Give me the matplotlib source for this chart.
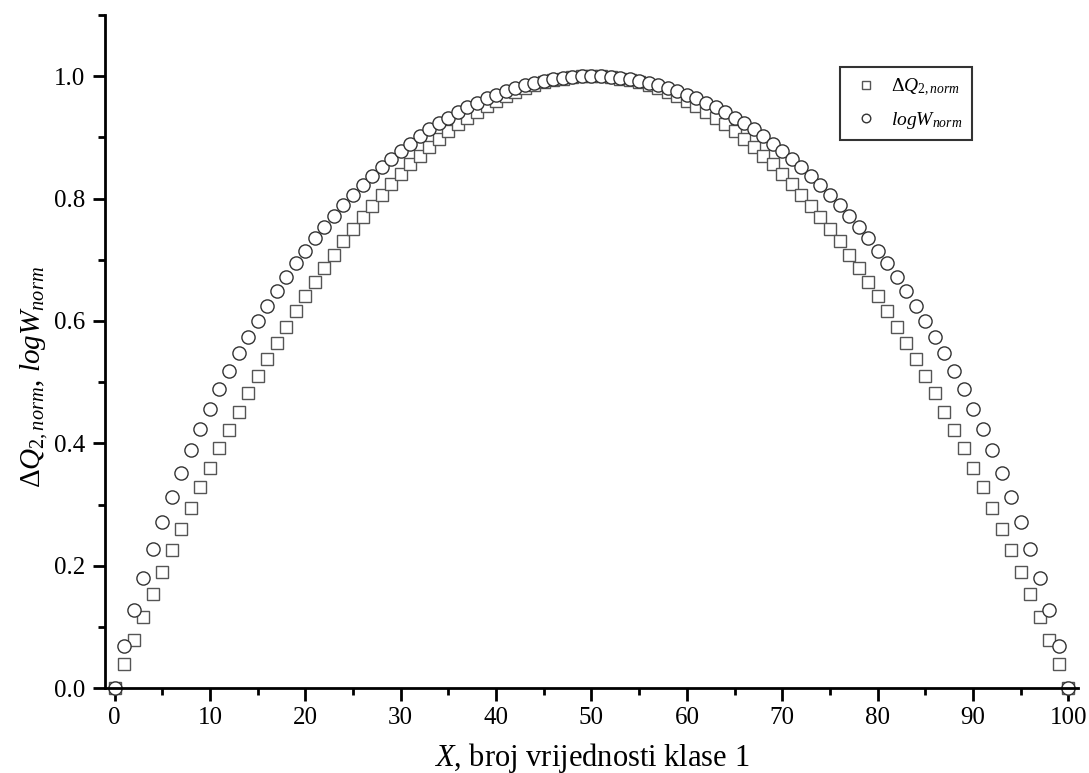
import matplotlib.pyplot as plt
from matplotlib.ticker import MultipleLocator

plt.rcParams['font.family'] = ['Liberation Serif', 'DejaVu Serif']
plt.rcParams['mathtext.fontset'] = 'custom'
plt.rcParams['mathtext.rm'] = 'Liberation Serif'
plt.rcParams['mathtext.it'] = 'Liberation Serif:italic'

# --- data ---
x = list(range(0, 101))

dq2_norm = [
    0.000, 0.040, 0.078, 0.116, 0.154, 0.190, 0.226, 0.260, 0.294, 0.328,
    0.360, 0.392, 0.422, 0.452, 0.482, 0.510, 0.538, 0.564, 0.590, 0.616,
    0.640, 0.664, 0.686, 0.708, 0.730, 0.750, 0.770, 0.788, 0.806, 0.824,
    0.840, 0.856, 0.870, 0.884, 0.898, 0.910, 0.922, 0.932, 0.942, 0.952,
    0.960, 0.968, 0.974, 0.980, 0.986, 0.990, 0.994, 0.996, 0.998, 1.000,
    1.000,
    1.000, 0.998, 0.996, 0.994, 0.990, 0.986, 0.980, 0.974, 0.968, 0.960,
    0.952, 0.942, 0.932, 0.922, 0.910, 0.898, 0.884, 0.870, 0.856, 0.840,
    0.824, 0.806, 0.788, 0.770, 0.750, 0.730, 0.708, 0.686, 0.664, 0.640,
    0.616, 0.590, 0.564, 0.538, 0.510, 0.482, 0.452, 0.422, 0.392, 0.360,
    0.328, 0.294, 0.260, 0.226, 0.190, 0.154, 0.116, 0.078, 0.040, 0.000,
]

logw_norm = [
    0.000, 0.069, 0.127, 0.180, 0.227, 0.272, 0.313, 0.352, 0.389, 0.423,
    0.456, 0.488, 0.518, 0.547, 0.574, 0.600, 0.625, 0.649, 0.672, 0.694,
    0.715, 0.735, 0.754, 0.772, 0.790, 0.806, 0.822, 0.837, 0.852, 0.865,
    0.878, 0.890, 0.902, 0.913, 0.923, 0.932, 0.941, 0.949, 0.957, 0.964,
    0.970, 0.976, 0.981, 0.985, 0.989, 0.993, 0.995, 0.997, 0.999, 1.000,
    1.000,
    1.000, 0.999, 0.997, 0.995, 0.993, 0.989, 0.985, 0.981, 0.976, 0.970,
    0.964, 0.957, 0.949, 0.941, 0.932, 0.923, 0.913, 0.902, 0.890, 0.878,
    0.865, 0.852, 0.837, 0.822, 0.806, 0.790, 0.772, 0.754, 0.735, 0.715,
    0.694, 0.672, 0.649, 0.625, 0.600, 0.574, 0.547, 0.518, 0.488, 0.456,
    0.423, 0.389, 0.352, 0.313, 0.272, 0.227, 0.180, 0.127, 0.069, 0.000,
]

fig = plt.figure(figsize=(10.89, 7.73), dpi=100)
ax = fig.add_axes([0.0964, 0.1099, 0.8935, 0.8706])

ax.plot(x, dq2_norm, linestyle='none', marker='s', markersize=8.5,
        markerfacecolor='white', markeredgecolor='#555555', markeredgewidth=1.0,
        label=r'$\mathit{\Delta Q}_{\mathit{2,norm}}$', clip_on=False)
ax.plot(x, logw_norm, linestyle='none', marker='o', markersize=9.5,
        markerfacecolor='white', markeredgecolor='#333333', markeredgewidth=1.0,
        label=r'$\mathit{logW}_{\mathit{norm}}$', clip_on=False)

ax.set_xlim(-1, 101)
ax.set_ylim(0, 1.1)

ax.spines['top'].set_visible(False)
ax.spines['right'].set_visible(False)
for s in ('left', 'bottom'):
    ax.spines[s].set_linewidth(2)

ax.xaxis.set_major_locator(MultipleLocator(10))
ax.xaxis.set_minor_locator(MultipleLocator(5))
ax.yaxis.set_major_locator(MultipleLocator(0.2))
ax.yaxis.set_minor_locator(MultipleLocator(0.1))
ax.tick_params(which='major', direction='out', length=9, width=2,
               labelsize=18, pad=5)
ax.tick_params(which='minor', direction='out', length=5, width=2)

ax.set_xlabel(r'$X$, broj vrijednosti klase 1', fontsize=22, labelpad=8)
ax.set_ylabel(r'$\Delta Q_{2,norm}$, $logW_{norm}$', fontsize=21)
ax.yaxis.set_label_coords(-0.057, 0.462)

leg = ax.legend(loc='upper right', bbox_to_anchor=(0.891, 0.923),
                borderaxespad=0, fontsize=14, handlelength=1.6,
                fancybox=False, framealpha=1, edgecolor='#333333',
                handletextpad=0.5, borderpad=0.5, labelspacing=0.6,
                markerscale=0.65)
leg.get_frame().set_linewidth(1.5)

plt.savefig('out.png', dpi=100)
